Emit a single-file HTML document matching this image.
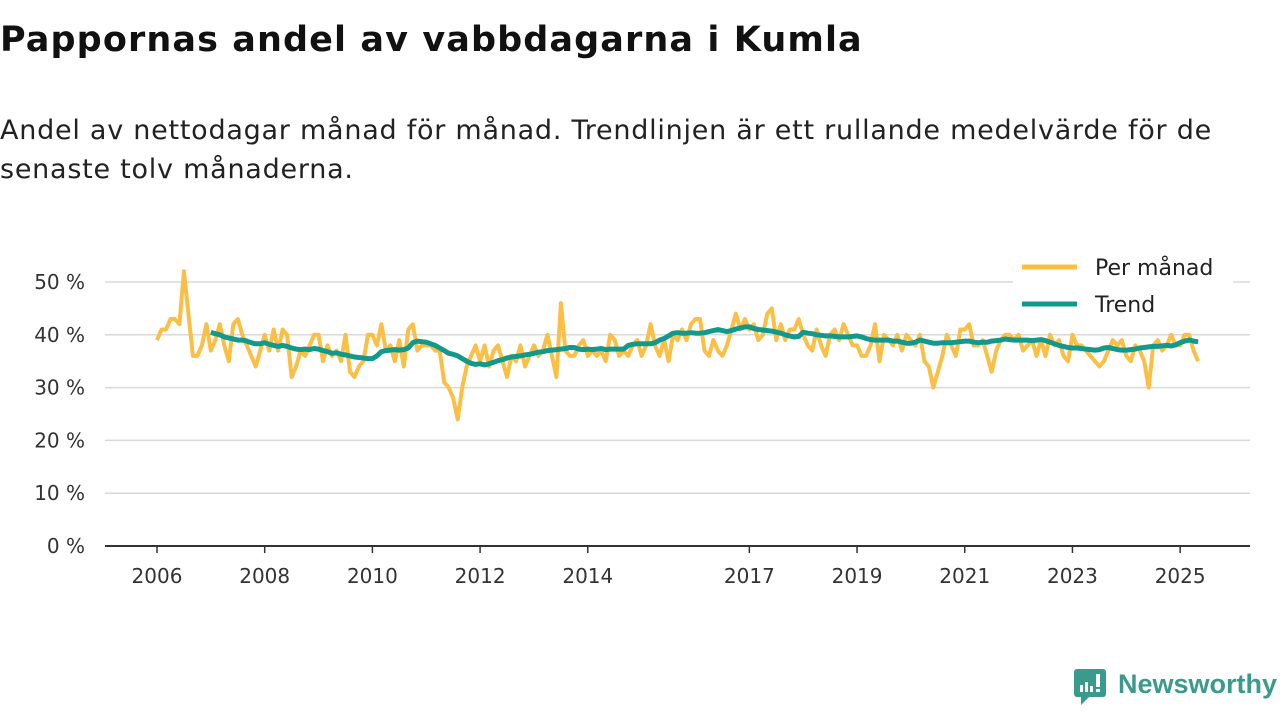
<!DOCTYPE html>
<html><head><meta charset="utf-8">
<style>
body{margin:0;width:1280px;height:720px;background:#fff;font-family:"DejaVu Sans","Liberation Sans",sans-serif;overflow:hidden;position:relative}
h1{position:absolute;left:0;top:20px;margin:0;font-size:35px;font-weight:bold;color:#111;white-space:nowrap;letter-spacing:1.1px}
.sub{position:absolute;left:0;top:111px;font-size:27px;line-height:39px;color:#222;white-space:nowrap;letter-spacing:0.75px}
svg{position:absolute;left:0;top:0}
svg text{font-family:"DejaVu Sans","Liberation Sans",sans-serif}
</style></head><body>
<h1>Pappornas andel av vabbdagarna i Kumla</h1>
<div class="sub">Andel av nettodagar månad för månad. Trendlinjen är ett rullande medelvärde för de<br>senaste tolv månaderna.</div>
<svg id="chart" width="1280" height="720"></svg>
<div style="position:absolute;left:1073px;top:668px;width:207px;height:40px">
<svg width="34" height="40" style="position:absolute;left:0;top:0"><rect x="1" y="1" width="32" height="28" rx="3" fill="#3a9a8c"/><polygon points="8,29 16,29 8,37" fill="#3a9a8c"/><rect x="7" y="17" width="3" height="7" fill="#fff"/><rect x="12" y="14" width="3" height="10" fill="#fff"/><rect x="17" y="18" width="3" height="6" fill="#fff"/><rect x="23" y="6" width="4" height="13" fill="#fff"/><rect x="23" y="21" width="4" height="3" fill="#fff"/></svg>
<span style="position:absolute;left:45px;top:1px;font-family:'Liberation Sans',sans-serif;font-size:27px;font-weight:bold;color:#3a9a8c">Newsworthy</span>
</div>
<script>
const ticksY=[0,10,20,30,40,50];
const ticksX=[2006,2008,2010,2012,2014,2017,2019,2021,2023,2025];
const monthly=[39,41,41,43,43,42,52,44,36,36,38,42,
37,39,42,38,35,42,43,40,38,36,34,37,
40,37,41,37,41,40,32,34,37,36,38,40,
40,35,38,36,37,35,40,33,32,34,35,40,
40,38,42,37,38,35,39,34,41,42,37,38,
38,38,37,37,31,30,28,24,30,34,36,38,
35,38,34,37,38,35,32,36,35,38,34,36,
38,36,37,40,36,32,46,37,36,36,38,39,
36,37,36,37,35,40,39,36,37,36,38,39,
36,38,42,38,36,39,35,40,39,41,39,42,
43,43,37,36,39,37,36,38,41,44,41,43,
41,42,39,40,44,45,39,42,39,41,41,43,
40,38,37,41,38,36,40,41,39,42,40,38,
38,36,36,38,42,35,40,39,38,40,37,40,
39,38,40,35,34,30,33,36,40,38,36,41,
41,42,38,38,39,36,33,37,39,40,40,39,
40,37,38,39,36,39,36,40,38,39,36,35,
40,38,38,37,36,35,34,35,37,39,38,39,
36,35,38,37,35,30,38,39,37,38,40,38,
38,40,40,37,35];
const trend=[40.5,40.2,40,39.6,39.4,39.2,39,39,38.8,38.5,38.3,38.3,
38.5,38.2,38,37.8,38,37.8,37.5,37.3,37.2,37.3,37.2,37.4,
37.3,37,36.8,36.5,36.6,36.3,36.2,36,35.8,35.7,35.6,35.5,
35.5,36,36.8,37,37.1,37.2,37.1,37.2,37.5,38.5,38.8,38.7,
38.6,38.3,38,37.5,37,36.5,36.3,36,35.5,35,34.6,34.4,
34.5,34.3,34.5,34.8,35.1,35.3,35.6,35.8,35.9,36,36.2,36.3,
36.5,36.7,36.8,37,37.1,37.2,37.3,37.4,37.6,37.6,37.3,37.2,
37.3,37.2,37.3,37.4,37.2,37.3,37.3,37.3,37.3,38,38.2,38.3,
38.3,38.3,38.3,38.5,39,39.3,39.8,40.3,40.4,40.3,40.3,40.4,
40.3,40.3,40.4,40.6,40.8,41,40.8,40.6,40.8,41.1,41.3,41.5,
41.5,41.2,41,40.9,40.8,40.7,40.5,40.3,40,39.8,39.6,39.7,
40.5,40.3,40.2,40,39.9,39.8,39.8,39.7,39.6,39.6,39.6,39.7,
39.8,39.6,39.3,39.1,39,39,39,39,38.8,38.8,38.6,38.4,
38.4,38.6,39,38.8,38.6,38.4,38.4,38.5,38.5,38.5,38.6,38.7,
38.8,38.8,38.6,38.5,38.6,38.6,38.8,38.9,39,39.2,39.1,39,
39,39,39,38.9,39,39.1,38.9,38.6,38.3,38,37.8,37.6,
37.5,37.5,37.4,37.3,37.2,37.1,37.2,37.5,37.6,37.4,37.2,37.1,
37.1,37.2,37.3,37.5,37.6,37.7,37.8,37.8,37.9,38,37.9,38.1,
38.5,38.8,39,38.8,38.7];
const startYear=2006, trendStart=12;
const NS='http://www.w3.org/2000/svg';
const svg=document.getElementById('chart');
const x=t=>157+(t-2006)*53.85;
const y=v=>546-v*5.28;
function mk(tag,attrs,parent){const e=document.createElementNS(NS,tag);for(const k in attrs)e.setAttribute(k,attrs[k]);(parent||svg).appendChild(e);return e;}
ticksY.forEach(v=>{
  if(v>0){const g=mk('line',{x1:105,x2:1250,y1:y(v),y2:y(v),stroke:'#d9d9d9','stroke-width':1.5});
  
  }
  const t=mk('text',{x:85,y:y(v)+7,'text-anchor':'end','font-size':20,fill:'#333'});t.textContent=v+' %';
  
  
});
const ax=mk('line',{x1:105,x2:1250,y1:546,y2:546,stroke:'#333','stroke-width':2});


ticksX.forEach(v=>{
  mk('line',{x1:x(v),x2:x(v),y1:546,y2:553,stroke:'#333','stroke-width':1.5});
  const t=mk('text',{x:x(v),y:583,'text-anchor':'middle','font-size':20,fill:'#333'});t.textContent=v;
  
  
});
const mp=monthly.map((v,i)=>x(startYear+i/12).toFixed(1)+','+y(v).toFixed(1)).join(' ');
const l1=mk('polyline',{points:mp,fill:'none',stroke:'#fbbf45','stroke-width':4,'stroke-linejoin':'round'});


const tp=trend.map((v,i)=>x(startYear+(i+trendStart)/12).toFixed(1)+','+y(v).toFixed(1)).join(' ');
const l2=mk('polyline',{points:tp,fill:'none',stroke:'#12998b','stroke-width':5,'stroke-linejoin':'round'});


const lg=mk('g',{});


mk('rect',{x:1013,y:250,width:220,height:70,fill:'#fff'},lg);
mk('line',{x1:1022,x2:1077,y1:267,y2:267,stroke:'#fbbf45','stroke-width':5},lg);
const a=mk('text',{x:1095,y:275,'font-size':22,fill:'#222'},lg);a.textContent='Per månad';
mk('line',{x1:1022,x2:1077,y1:304,y2:304,stroke:'#12998b','stroke-width':5},lg);
const b=mk('text',{x:1095,y:312,'font-size':22,fill:'#222'},lg);b.textContent='Trend';
</script>
</body></html>
